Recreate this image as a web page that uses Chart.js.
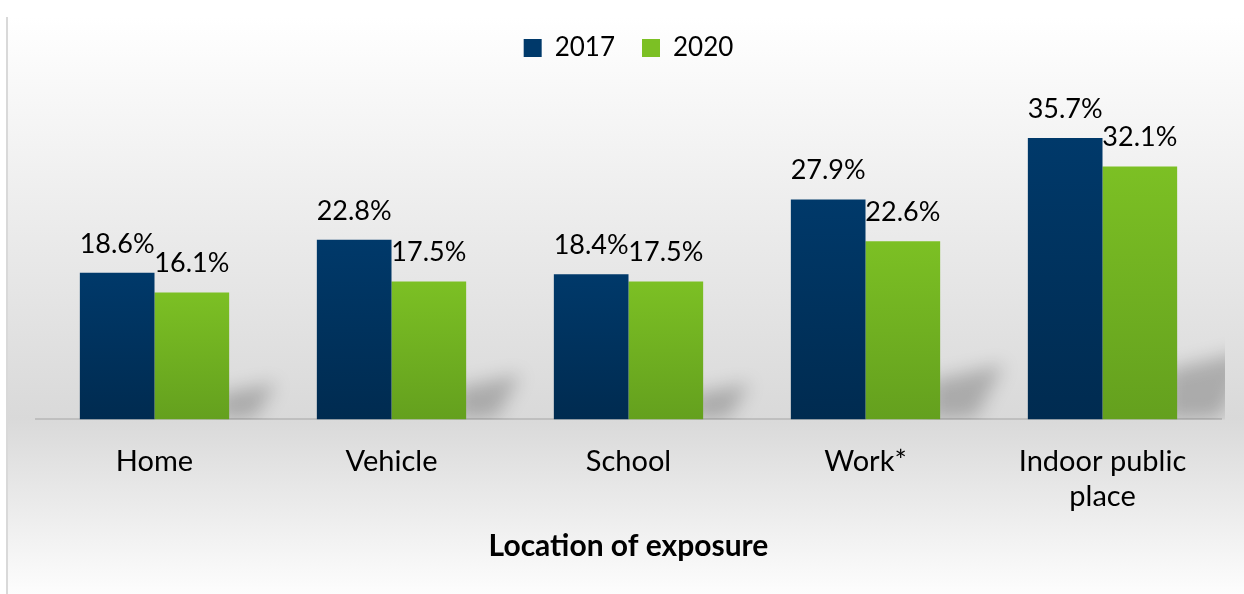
<!DOCTYPE html>
<html>
<head>
<meta charset="utf-8">
<script src="https://cdn.jsdelivr.net/npm/chart.js@4"></script>
<style>
  html, body { margin: 0; padding: 0; background: #ffffff; }
  #wrap {
    position: absolute; left: 6px; top: 17px; width: 1238px; height: 577px;
    border-left: 2px solid #d9d9d9;
    background: linear-gradient(to bottom, #ffffff 0%, #d9d9d9 69.5%, #fdfdfd 100%);
  }
  #box { position: absolute; left: 0; top: 0; width: 1244px; height: 594px; }
</style>
</head>
<body>
<div id="wrap"></div>
<div id="box"><canvas id="exposureChart"></canvas></div>
<script>
// --- Datos ---
const locations = ['Home', 'Vehicle', 'School', 'Work*', ['Indoor public', 'place']];
const years = ['2017', '2020'];
const values2017 = [18.6, 22.8, 18.4, 27.9, 35.7];
const values2020 = [16.1, 17.5, 17.5, 22.6, 32.1];

// gradiente vertical por barra
function barGradient(top, bottom, flat) {
    return function (ctx) {
        const chart = ctx.chart;
        const area = chart.chartArea;
        if (!area || ctx.type !== 'data') return flat;
        const y = chart.scales.y.getPixelForValue(ctx.raw);
        const g = chart.ctx.createLinearGradient(0, y, 0, area.bottom);
        g.addColorStop(0, top);
        g.addColorStop(1, bottom);
        return g;
    };
}

// sombra gris detrás de cada grupo
const shadowPlugin = {
    id: 'barShadow',
    beforeDatasetsDraw(chart) {
        const ctx = chart.ctx;
        const blue = chart.getDatasetMeta(0).data;
        const green = chart.getDatasetMeta(1).data;
        const area = chart.chartArea;
        ctx.save();
        ctx.beginPath();
        ctx.rect(area.left, area.top, area.right - area.left + 4, area.bottom - area.top);
        ctx.clip();
        ctx.filter = 'blur(9px)';
        ctx.fillStyle = 'rgba(0,0,0,0.22)';
        green.forEach(function (bar, i) {
            const xr = bar.x + bar.width / 2;
            const yb = bar.base;
            const s = (blue[i].base - blue[i].y) * 0.25;
            ctx.beginPath();
            ctx.moveTo(xr - 10, yb);
            ctx.lineTo(xr - 10, yb - s * 0.7);
            ctx.lineTo(xr + s * 0.9 + 14, yb - s);
            ctx.lineTo(xr + s * 0.5 + 8, yb - 2);
            ctx.closePath();
            ctx.fill();
        });
        ctx.restore();
    }
};

// etiquetas de valor encima de las barras
const labelPlugin = {
    id: 'barLabels',
    afterDatasetsDraw(chart) {
        const ctx = chart.ctx;
        ctx.save();
        ctx.font = '27px Lato';
        ctx.fillStyle = '#000000';
        ctx.textAlign = 'center';
        ctx.textBaseline = 'alphabetic';
        chart.data.datasets.forEach(function (ds, di) {
            chart.getDatasetMeta(di).data.forEach(function (bar, i) {
                ctx.fillText(ds.data[i].toFixed(1) + '%', bar.x, bar.y - 20);
            });
        });
        ctx.restore();
    }
};

const ctxExp = document.getElementById('exposureChart').getContext('2d');

new Chart(ctxExp, {
    type: 'bar',
    data: {
        labels: locations,
        datasets: [{
            label: years[0],
            data: values2017,
            backgroundColor: barGradient('#00396a', '#002b50', '#003260'),
            borderWidth: 0
        }, {
            label: years[1],
            data: values2020,
            backgroundColor: barGradient('#7cc024', '#64a01e', '#72b221'),
            borderWidth: 0
        }]
    },
    options: {
        responsive: true,
        maintainAspectRatio: false,
        animation: false,
        layout: {
            padding: { left: 36, right: 23, top: 8, bottom: 30 }
        },
        datasets: {
            bar: { categoryPercentage: 0.63, barPercentage: 1.0 }
        },
        plugins: {
            legend: {
                position: 'top',
                labels: {
                    font: { family: 'Lato', size: 26 },
                    color: '#000000',
                    boxWidth: 18,
                    boxHeight: 18,
                    padding: 27
                }
            },
            tooltip: { enabled: false }
        },
        scales: {
            y: {
                display: false,
                min: 0,
                max: 44.2
            },
            x: {
                grid: { display: false, drawTicks: false },
                border: { display: true, color: '#bfbfbf', width: 2 },
                ticks: {
                    font: { family: 'Lato', size: 29 },
                    color: '#000000',
                    padding: 25,
                    maxRotation: 0
                },
                title: {
                    display: true,
                    text: 'Location of exposure',
                    font: { family: 'Lato', size: 30, weight: 'bold' },
                    color: '#000000',
                    padding: { top: -11, bottom: 0 }
                }
            }
        }
    },
    plugins: [shadowPlugin, labelPlugin]
});
</script>
</body>
</html>
